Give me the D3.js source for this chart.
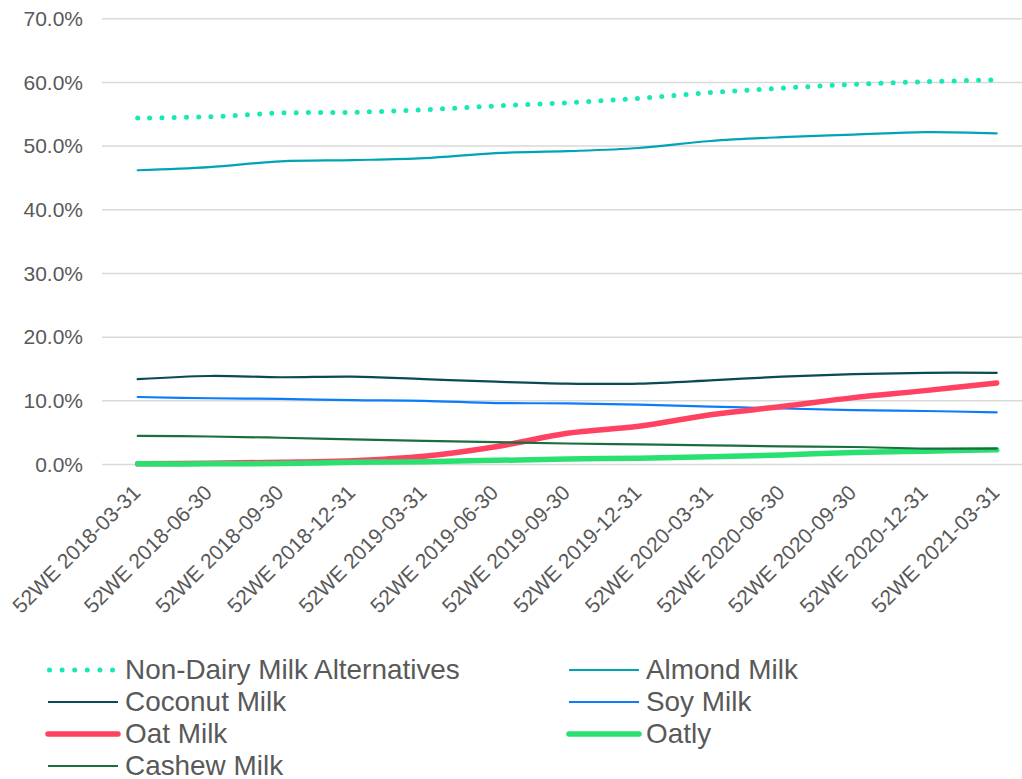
<!DOCTYPE html>
<html>
<head>
<meta charset="utf-8">
<script src="https://cdn.jsdelivr.net/npm/d3@7"></script>
<style>
  body { margin: 0; background: #fff; }
  text { font-family: 'Liberation Sans', Arial, sans-serif; fill: #595959; }
</style>
</head>
<body>
<div id="root"></div>
<script>
const periods = ['52WE 2018-03-31', '52WE 2018-06-30', '52WE 2018-09-30', '52WE 2018-12-31',
  '52WE 2019-03-31', '52WE 2019-06-30', '52WE 2019-09-30', '52WE 2019-12-31',
  '52WE 2020-03-31', '52WE 2020-06-30', '52WE 2020-09-30', '52WE 2020-12-31', '52WE 2021-03-31']
const yTicks = [0, 0.1, 0.2, 0.3, 0.4, 0.5, 0.6, 0.7]

// values in percent
const nonDairy = [54.4, 54.6, 55.2, 55.3, 55.7, 56.3, 56.8, 57.5, 58.4, 59.1, 59.7, 60.1, 60.4]
const almond = [46.2, 46.7, 47.6, 47.8, 48.1, 48.9, 49.2, 49.7, 50.8, 51.4, 51.8, 52.2, 52.0]
const coconut = [13.4, 13.9, 13.7, 13.8, 13.4, 13.0, 12.7, 12.7, 13.2, 13.8, 14.2, 14.4, 14.4]
const soy = [10.6, 10.4, 10.3, 10.1, 10.0, 9.65, 9.6, 9.4, 9.1, 8.8, 8.55, 8.4, 8.2]
const oat = [0.1, 0.2, 0.35, 0.6, 1.3, 2.8, 4.9, 6.0, 7.8, 9.1, 10.5, 11.6, 12.8]
const oatly = [0.1, 0.1, 0.15, 0.35, 0.45, 0.65, 0.85, 1.0, 1.2, 1.5, 1.9, 2.1, 2.3]
const cashew = [4.5, 4.4, 4.2, 3.95, 3.7, 3.5, 3.3, 3.15, 3.0, 2.85, 2.75, 2.5, 2.5]

const series = [
  { name: 'Non-Dairy Milk Alternatives', values: nonDairy, color: '#17e9b5', width: 5, dots: true },
  { name: 'Almond Milk', values: almond, color: '#00a5b5', width: 2.2 },
  { name: 'Coconut Milk', values: coconut, color: '#0a4a52', width: 2.2 },
  { name: 'Soy Milk', values: soy, color: '#0b7dfb', width: 2.2 },
  { name: 'Oat Milk', values: oat, color: '#ff4262', width: 5.5 },
  { name: 'Oatly', values: oatly, color: '#29e070', width: 5.5 },
  { name: 'Cashew Milk', values: cashew, color: '#1a6f3c', width: 2.2 }
]

const dimensions = { width: 1022, height: 779 }

const svg = d3.select('#root')
  .append('svg')
  .attr('width', dimensions.width)
  .attr('height', dimensions.height)

const xScale = d3.scalePoint()
  .domain(periods)
  .range([137.7, 996.7])

const yScale = d3.scaleLinear()
  .domain([0, 0.7])
  .range([464.5, 18.7])

// gridlines
svg.append('g')
  .selectAll('line')
  .data(yTicks)
  .join('line')
  .attr('x1', 102)
  .attr('x2', dimensions.width)
  .attr('y1', d => yScale(d))
  .attr('y2', d => yScale(d))
  .attr('stroke', '#d9d9d9')
  .attr('stroke-width', 1.5)

// y axis labels
svg.append('g')
  .selectAll('text')
  .data(yTicks)
  .join('text')
  .attr('x', 83)
  .attr('y', d => yScale(d))
  .attr('dy', '0.35em')
  .attr('text-anchor', 'end')
  .style('font-size', '21px')
  .text(d => d3.format('.1%')(d))

// x axis labels, rotated
svg.append('g')
  .selectAll('text')
  .data(periods)
  .join('text')
  .attr('transform', d => `translate(${xScale(d) + 4}, 494) rotate(-45)`)
  .attr('text-anchor', 'end')
  .style('font-size', '21px')
  .text(d => d)

const line = d3.line()
  .x((d, i) => xScale(periods[i]))
  .y(d => yScale(d / 100))
  .curve(d3.curveCatmullRom.alpha(0))

svg.append('g')
  .selectAll('path')
  .data(series)
  .join('path')
  .attr('d', d => line(d.values))
  .attr('fill', 'none')
  .attr('stroke', d => d.color)
  .attr('stroke-width', d => d.width)
  .attr('stroke-linecap', 'round')
  .attr('stroke-linejoin', 'round')
  .attr('stroke-dasharray', d => d.dots ? '0 12.2' : null)

// legend, two columns
const legend = svg.append('g')
  .selectAll('g')
  .data(series)
  .join('g')
  .attr('transform', (d, i) => `translate(${i % 2 === 0 ? 48 : 569}, ${670 + Math.floor(i / 2) * 32})`)

legend.append('line')
  .attr('x1', d => d.dots ? 1.5 : 0)
  .attr('x2', 70)
  .attr('stroke', d => d.color)
  .attr('stroke-width', d => d.width)
  .attr('stroke-linecap', d => d.dots || d.width > 4 ? 'round' : 'butt')
  .attr('stroke-dasharray', d => d.dots ? '0 12.6' : null)

legend.append('text')
  .attr('x', 77)
  .attr('y', 9)
  .style('font-size', '27.9px')
  .text(d => d.name)
</script>
</body>
</html>
